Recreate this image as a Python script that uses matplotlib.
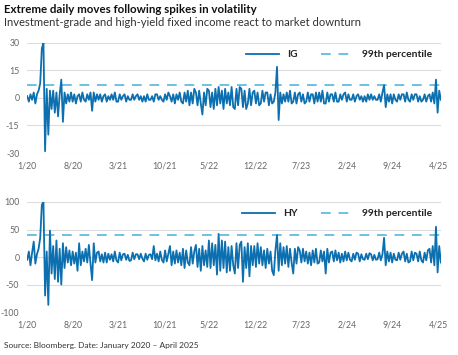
"""Extreme daily moves in IG and HY fixed income following volatility spikes."""

import matplotlib.pyplot as plt
import matplotlib.dates as mdates
import pandas as pd

# weekly-ish readings, four per month, Jan 2020 - Apr 2025
IG_MOVES = [
    # 2020
    1, -2, 2, -1,  3, -3, 2, 4,  8, 27, 30, -29,  5, -20, 4, -6,
    4, -8, 3, -10,  2, 10, -13, 3,  -3, 2, -2, 3,  -2, 2, -3, 1,
    2, -2, 3, -1,  -2, 2, -1, 3,  -7, 3, -2, 2,  -1, 2, -2, 1,
    # 2021
    2, -2, 1, -1,  2, -1, 3, -2,  -2, 2, -1, 1,  2, -2, 1, -1,
    -1, 2, -1, 1,  2, -1, 1, -2,  1, -2, 2, -1,  -1, 1, -2, 2,
    2, -1, 1, -1,  -2, 2, -1, 3,  1, -2, 2, -3,  2, -1, 3, -2,
    # 2022
    -3, 3, -2, 4,  -4, 3, -3, 5,  3, -4, 4, -3,  -9, 3, -4, 5,
    4, -5, 3, -6,  5, -4, 6, -3,  4, -6, 5, -3,  3, -4, 6, -5,
    -6, 5, -4, 6,  5, -5, 4, -6,  -3, 5, -4, 3,  4, -3, 3, -4,
    # 2023
    -3, 4, -2, 3,  3, -4, 2, -3,  -2, 3, 17, -12,  3, -3, 2, -2,
    3, -2, 4, -3,  -2, 3, -3, 2,  3, -2, 2, -3,  -2, 3, -2, 2,
    2, -3, 3, -2,  3, -2, 4, -3,  -3, 3, -2, 2,  2, -2, 3, -2,
    # 2024
    -2, 2, -1, 2,  3, -2, 2, -1,  -1, 2, -2, 1,  2, -1, 1, -2,
    1, -2, 2, -1,  2, -1, 1, -1,  -1, 2, -2, 3,  7, -5, 2, -2,
    2, -3, 2, -1,  -2, 2, -1, 2,  2, -2, 3, -1,  -2, 2, -1, 2,
    # 2025
    2, -2, 1, -2,  -1, 2, -2, 1,  2, -2, 3, -3,  10, -8, 4, -1,
]

HY_MOVES = [
    # 2020
    -5, 10, -15, 8,  28, -12, 5, 15,  35, 95, 100, -70,  10, -87, 48, -30,
    20, -40, 30, -45,  15, -50, 25, -20,  18, -10, 12, -15,  10, -12, 8, -25,
    25, -15, 10, -8,  15, -10, 22, -12,  -42, 25, -10, 8,  10, -8, 5, -10,
    # 2021
    8, -10, 6, -5,  5, -8, 10, -6,  -10, 8, -6, 5,  6, -5, 4, -7,
    -6, 8, -4, 5,  5, -4, 6, -3,  -8, 6, -5, 4,  5, -4, 20, -6,
    6, -8, 10, -5,  -10, 12, -8, 6,  20, -15, 10, -12,  12, -10, 8, -15,
    # 2022
    15, -20, 12, -10,  -15, 18, -12, 10,  22, -18, 15, -25,  20, -15, 12, -18,
    30, -20, 25, -15,  22, -32, 42, -25,  30, -20, 28, -28,  18, -25, 20, -15,
    -30, 25, -20, 22,  28, -45, 18, -20,  25, -35, 20, -15,  20, -18, 25, -12,
    # 2023
    18, -15, 12, -20,  15, -12, 10, -25,  -33, 12, 40, -25,  25, -15, 18, -12,
    20, -18, 15, -10,  -30, 15, -12, 18,  12, -10, 15, -8,  10, -12, 8, -15,
    12, -10, 15, -12,  -10, 12, -8, 10,  -30, 15, -10, 8,  10, -8, 12, -6,
    # 2024
    8, -10, 6, -8,  10, -6, 8, -5,  -8, 6, -5, 8,  6, -8, 5, -4,
    -5, 6, -4, 7,  5, -6, 4, -5,  -4, 8, -6, 5,  35, -15, 10, -8,
    8, -10, 6, -5,  -6, 8, -5, 6,  10, -8, 6, -10,  -8, 10, -6, 8,
    # 2025
    6, -8, 10, -6,  -10, 8, -6, 12,  15, -10, 20, -15,  55, -28, 20, -10,
]

IG_P99 = 7
HY_P99 = 40

IG_TICKS = [-30, -15, 0, 15, 30]
HY_TICKS = [-100, -50, 0, 50, 100]

TICK_DATES = ["2020-01-01", "2020-08-01", "2021-03-01", "2021-10-01",
              "2022-05-01", "2022-12-01", "2023-07-01", "2024-02-01",
              "2024-09-01", "2025-04-01"]

LINE_BLUE = "#0b6fb0"
DASH_BLUE = "#6cc0e5"
GRID_GREY = "#dcdcdc"
TEXT_GREY = "#666666"

plt.rcParams["font.family"] = ["Lato", "DejaVu Sans"]
plt.rcParams["axes.unicode_minus"] = False


def draw_panel(ax, dates, values, p99, ticks, label):
    """Draw one series with its 99th percentile line."""

    ax.plot(dates, values, color=LINE_BLUE, lw=1.3, label=label, zorder=3)
    ax.axhline(p99, color=DASH_BLUE, lw=1.4, ls=(0, (5, 4)),
               label="99th percentile", zorder=2)

    ax.set_ylim(ticks[0], ticks[-1])
    ax.set_yticks(ticks)
    ax.set_xlim(pd.Timestamp("2020-01-01"), pd.Timestamp("2025-04-15"))
    ax.set_xticks(pd.to_datetime(TICK_DATES))
    ax.xaxis.set_major_formatter(
        plt.FuncFormatter(
            lambda v, _: f"{mdates.num2date(v).month}/{mdates.num2date(v):%y}"
        )
    )

    ax.grid(axis="y", color=GRID_GREY, lw=0.8)
    ax.set_axisbelow(True)
    for spine in ax.spines.values():
        spine.set_visible(False)
    ax.tick_params(length=0, labelsize=6.3, colors=TEXT_GREY)
    ax.tick_params(axis="y", pad=5.5)
    ax.tick_params(axis="x", pad=6)

    legend = ax.legend(loc="upper right", ncol=2, frameon=False,
                       fontsize=7.4, handlelength=3.2, columnspacing=2.2,
                       bbox_to_anchor=(1.0, 1.02))
    for text in legend.get_texts():
        text.set_color("#222222")
        text.set_fontweight("bold")


def main():
    fig = plt.figure(figsize=(4.58, 3.55), dpi=100)

    ig_dates = pd.date_range("2020-01-02", "2025-04-14", periods=len(IG_MOVES))
    hy_dates = pd.date_range("2020-01-02", "2025-04-14", periods=len(HY_MOVES))

    ax_ig = fig.add_axes([0.059, 0.569, 0.904, 0.310])
    ax_hy = fig.add_axes([0.059, 0.121, 0.904, 0.310])

    draw_panel(ax_ig, ig_dates, IG_MOVES, IG_P99, IG_TICKS, "IG")
    draw_panel(ax_hy, hy_dates, HY_MOVES, HY_P99, HY_TICKS, "HY")

    fig.text(0.009, 0.988, "Extreme daily moves following spikes in volatility",
             fontsize=8.3, fontweight="bold", color="#111111", va="top")
    fig.text(0.009, 0.953,
             "Investment-grade and high-yield fixed income react to market downturn",
             fontsize=8.1, color="#333333", va="top")
    fig.text(0.009, 0.028, "Source: Bloomberg. Date: January 2020 \u2013 April 2025",
             fontsize=6, color="#333333", va="center")

    fig.savefig("out.png", dpi=100)


if __name__ == "__main__":
    main()
